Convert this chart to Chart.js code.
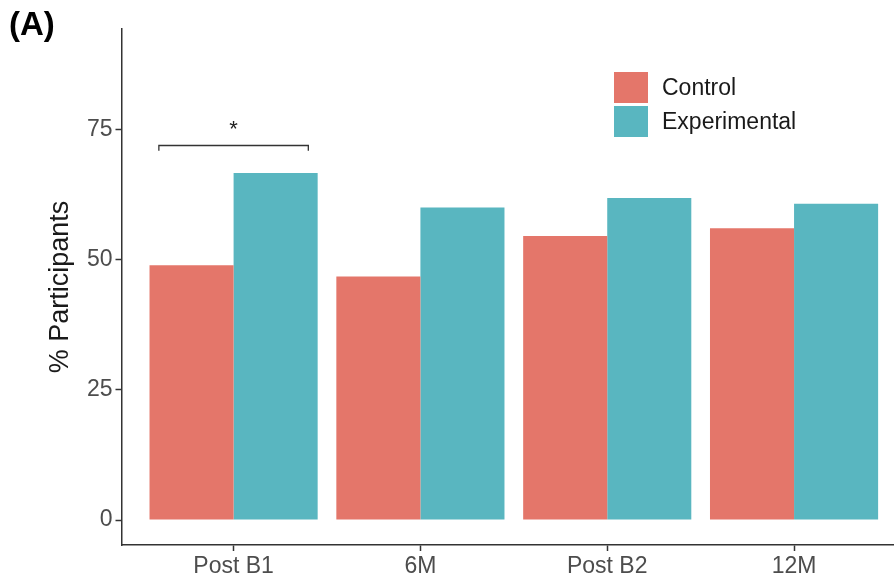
<!DOCTYPE html>
<html>
<head>
<meta charset="utf-8">
<script src="https://cdn.jsdelivr.net/npm/chart.js@4/dist/chart.umd.min.js"></script>
<style>
  html, body { margin: 0; padding: 0; background: #ffffff; }
  #wrap { position: relative; width: 894px; height: 578px; }
  canvas { display: block; }
</style>
</head>
<body>
<div id="wrap"><canvas id="c" width="894" height="578"></canvas></div>
<script>
// ---- data ----
const CATEGORIES = ['Post B1', '6M', 'Post B2', '12M'];
const CONTROL = [49.0, 46.8, 54.6, 56.1];
const EXPERIMENTAL = [66.7, 60.1, 61.9, 60.8];
const Y_TICKS = [0, 25, 50, 75];
const SERIES_NAMES = ['Control', 'Experimental'];
// significance bracket between the two bars of "Post B1" (category index 0)
const SIG_CATEGORY = 0;
const SIG_Y = 72;
const SIG_LABEL = '*';

const COLORS = ['#E4766A', '#59B6C0'];
const FONT = '"Liberation Sans", Arial, Helvetica, sans-serif';

const toPoints = arr => arr.map((v, i) => ({ x: i + 1, y: v }));

const extras = {
  id: 'extras',
  afterDraw(chart) {
    const ctx = chart.ctx;
    const xs = chart.scales.x, ys = chart.scales.y;
    ctx.save();
    // panel tag
    ctx.fillStyle = '#000';
    ctx.font = 'bold 33px ' + FONT;
    ctx.textBaseline = 'middle';
    ctx.textAlign = 'left';
    ctx.fillText('(A)', 9, 26);
    // significance bracket
    const c = SIG_CATEGORY + 1;
    const x0 = xs.getPixelForValue(c - 0.4);
    const x1 = xs.getPixelForValue(c + 0.4);
    const yb = ys.getPixelForValue(SIG_Y);
    const yt = ys.getPixelForValue(SIG_Y - 1);
    ctx.strokeStyle = '#333';
    ctx.lineWidth = 1.3;
    ctx.beginPath();
    ctx.moveTo(x0, yt); ctx.lineTo(x0, yb); ctx.lineTo(x1, yb); ctx.lineTo(x1, yt);
    ctx.stroke();
    ctx.fillStyle = '#222';
    ctx.font = '22px ' + FONT;
    ctx.textAlign = 'center';
    ctx.textBaseline = 'middle';
    ctx.fillText(SIG_LABEL, (x0 + x1) / 2, ys.getPixelForValue(SIG_Y + 2.9));
    // legend
    const lx = 614, ly = 72, sw = 34, sh = 31, gap = 3;
    ctx.textAlign = 'left';
    ctx.font = '23px ' + FONT;
    chart.data.datasets.forEach((ds, i) => {
      const y = ly + i * (sh + gap);
      ctx.fillStyle = ds.backgroundColor;
      ctx.fillRect(lx, y, sw, sh);
      ctx.fillStyle = '#1a1a1a';
      ctx.fillText(ds.label, 662, y + sh / 2 + 1);
    });
    ctx.restore();
  }
};

new Chart(document.getElementById('c'), {
  type: 'bar',
  data: {
    datasets: [
      { label: SERIES_NAMES[0], data: toPoints(CONTROL), backgroundColor: COLORS[0] },
      { label: SERIES_NAMES[1], data: toPoints(EXPERIMENTAL), backgroundColor: COLORS[1] }
    ]
  },
  options: {
    responsive: false,
    animation: false,
    devicePixelRatio: 1,
    layout: { padding: { top: 29, right: 0, left: 0, bottom: 0 } },
    datasets: { bar: { categoryPercentage: 0.9, barPercentage: 1.0, borderWidth: 0 } },
    plugins: {
      legend: { display: false },
      tooltip: { enabled: false }
    },
    scales: {
      x: {
        type: 'linear',
        offset: false,
        min: 0.4,
        max: 4.535,
        afterBuildTicks: s => { s.ticks = CATEGORIES.map((_, i) => ({ value: i + 1 })); },
        afterFit: s => { s.height = 33; },
        ticks: {
          callback: v => CATEGORIES[Math.round(v) - 1],
          color: '#4d4d4d',
          font: { family: FONT, size: 23 },
          padding: 2,
          maxRotation: 0,
          autoSkip: false
        },
        grid: { offset: false, drawOnChartArea: false, drawTicks: true, tickLength: 6, color: '#333', tickWidth: 1.5 },
        border: { display: true, color: '#333', width: 1.5 }
      },
      y: {
        min: -4.8,
        max: 94.4,
        afterBuildTicks: s => { s.ticks = Y_TICKS.map(v => ({ value: v })); },
        afterFit: s => { s.width = 121.5; },
        ticks: {
          color: '#4d4d4d',
          font: { family: FONT, size: 23 },
          padding: 3
        },
        grid: { drawOnChartArea: false, drawTicks: true, tickLength: 6, color: '#333', tickWidth: 1.5 },
        border: { display: true, color: '#333', width: 1.5 },
        title: {
          display: true,
          text: '% Participants',
          color: '#1a1a1a',
          font: { family: FONT, size: 27 },
          padding: { top: 44, bottom: 0 }
        }
      }
    }
  },
  plugins: [extras]
});
</script>
</body>
</html>
